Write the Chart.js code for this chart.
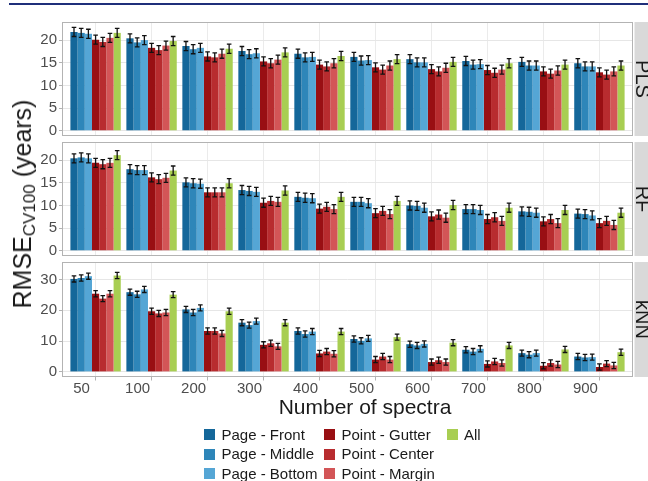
<!DOCTYPE html>
<html>
<head>
<meta charset="utf-8">
<script src="https://cdn.jsdelivr.net/npm/chart.js@4.4.1/dist/chart.umd.min.js"></script>
<style>
  html, body { margin: 0; padding: 0; background: #fff; }
  #wrap { position: relative; width: 648px; height: 481px; overflow: hidden; font-family: "Liberation Sans", Arial, sans-serif; color: #1a1a1a; }
  #wrap canvas { position: absolute; left: 0; }
  .topline { position: absolute; left: 9px; top: 3px; width: 639px; height: 2px; background: #1f2f7a; }
  #ytitle { position: absolute; left: 22px; top: 204px; transform: translate(-50%, -50%) rotate(-90deg); white-space: nowrap; font-size: 25px; line-height: 28px; }
  #ytitle sub { font-size: 17px; vertical-align: -4px; line-height: 0; }
  #xtitle { position: absolute; left: 365px; top: 394px; transform: translateX(-50%); white-space: nowrap; font-size: 21px; line-height: 26px; }
  .lg { position: absolute; font-size: 15px; line-height: 18px; white-space: nowrap; }
  .lg i { position: absolute; width: 11px; height: 11px; left: -17.5px; top: 3.5px; }
</style>
</head>
<body>
<div id="wrap">
  <div class="topline"></div>
  <canvas id="pls"></canvas>
  <canvas id="rf"></canvas>
  <canvas id="knn"></canvas>
  <div id="ytitle">RMSE<sub>CV100</sub> (years)</div>
  <div id="xtitle">Number of spectra</div>
</div>
<script>
// group labels (number of spectra)
const categories = ['50', '100', '200', '300', '400', '500', '600', '700', '800', '900'];
const seriesNames = ['Page - Front', 'Page - Middle', 'Page - Bottom', 'Point - Gutter', 'Point - Center', 'Point - Margin', 'All'];
const seriesColors = ['#14679a', '#2e86b9', '#55a6d5', '#990f13', '#b82c2f', '#d35557', '#a8ce52'];

// PLS
const plsFront  = [21.8, 20.4, 18.7, 17.6, 17.0, 16.3, 15.8, 15.4, 15.2, 14.9];
const plsMiddle = [21.6, 19.5, 18.0, 16.9, 16.2, 15.5, 15.1, 14.6, 14.4, 14.2];
const plsBottom = [21.4, 20.0, 18.3, 17.1, 16.3, 15.6, 15.1, 14.7, 14.4, 14.2];
const plsGutter = [20.1, 18.3, 16.4, 15.3, 14.6, 14.0, 13.6, 13.4, 13.1, 12.9];
const plsCenter = [19.6, 17.8, 16.2, 14.9, 14.2, 13.5, 13.1, 12.8, 12.6, 12.4];
const plsMargin = [20.5, 18.8, 17.0, 15.7, 14.9, 14.4, 13.9, 13.5, 13.3, 13.1];
const plsAll    = [21.6, 19.8, 18.1, 17.3, 16.5, 15.8, 15.2, 14.9, 14.6, 14.4];
const plsErr    = [1.0, 1.0, 1.0, 1.0, 1.0, 1.0, 1.0, 1.0, 1.0, 1.0];

// RF
const rfFront  = [20.4, 18.0, 15.1, 13.4, 11.9, 10.8, 10.0, 9.2, 8.7, 8.2];
const rfMiddle = [20.6, 17.8, 14.9, 13.2, 11.7, 10.8, 9.9, 9.2, 8.6, 8.1];
const rfBottom = [20.4, 17.8, 14.8, 13.0, 11.6, 10.5, 9.5, 9.0, 8.4, 7.8];
const rfGutter = [19.4, 16.2, 12.9, 10.6, 9.3, 8.3, 7.6, 7.0, 6.5, 6.1];
const rfCenter = [19.1, 15.8, 12.9, 11.0, 9.7, 8.8, 8.0, 7.4, 7.0, 6.6];
const rfMargin = [19.4, 16.1, 12.9, 10.8, 9.2, 8.1, 7.3, 6.6, 6.1, 5.7];
const rfAll    = [21.1, 17.7, 14.9, 13.3, 11.9, 11.0, 10.1, 9.5, 9.0, 8.4];
const rfErr    = [1.0, 1.0, 1.0, 1.0, 1.0, 1.0, 1.0, 1.0, 1.0, 1.0];

// kNN
const knnFront  = [30.2, 25.9, 20.3, 16.0, 13.3, 10.7, 9.0, 7.2, 6.1, 5.0];
const knnMiddle = [30.5, 25.2, 19.3, 15.2, 12.3, 10.1, 8.6, 6.6, 5.6, 4.7];
const knnBottom = [31.1, 26.8, 20.8, 16.5, 13.1, 10.9, 9.1, 7.5, 6.1, 4.8];
const knnGutter = [25.4, 19.7, 13.3, 8.8, 6.0, 4.0, 3.2, 2.6, 2.0, 1.6];
const knnCenter = [23.8, 19.0, 13.3, 9.3, 6.6, 5.0, 3.8, 3.4, 2.9, 2.7];
const knnMargin = [25.4, 19.3, 12.5, 8.3, 5.9, 4.0, 3.2, 2.9, 2.4, 2.1];
const knnAll    = [31.3, 25.1, 19.7, 16.0, 13.1, 11.3, 9.5, 8.6, 7.3, 6.4];
const knnErr    = [1.0, 1.0, 1.0, 1.0, 1.0, 1.0, 1.0, 1.0, 1.0, 1.0];

const FONT = '"Liberation Sans", Arial, sans-serif';
const PAD = 10;        // canvas padding above/below the panel
const PANEL_H = 116;
const XAXIS_H = 24;

// full panel border + facet strip on the right
const panelDeco = {
  id: 'panelDeco',
  afterDraw(chart, args, opts) {
    const { ctx, chartArea: a } = chart;
    ctx.save();
    ctx.fillStyle = '#d9d9d9';
    ctx.fillRect(a.right + 1.5, a.top, 20, a.bottom - a.top);
    ctx.strokeStyle = '#b3b3b3';
    ctx.lineWidth = 1;
    ctx.strokeRect(a.left + 0.5, a.top + 0.5, a.right - a.left - 1, a.bottom - a.top - 1);
    ctx.translate(a.right + 2.5, (a.top + a.bottom) / 2);
    ctx.rotate(Math.PI / 2);
    ctx.fillStyle = '#1a1a1a';
    ctx.font = '20px ' + FONT;
    ctx.textAlign = 'center';
    ctx.textBaseline = 'alphabetic';
    ctx.fillText(opts.label, 0, 0);
    ctx.restore();
  }
};

// error bars drawn over each bar
const errorBars = {
  id: 'errorBars',
  afterDatasetsDraw(chart, args, opts) {
    const { ctx } = chart;
    const y = chart.scales.y;
    ctx.save();
    ctx.strokeStyle = '#111';
    ctx.lineWidth = 1.3;
    chart.data.datasets.forEach((ds, di) => {
      const meta = chart.getDatasetMeta(di);
      meta.data.forEach((bar, i) => {
        const v = ds.data[i].y;
        const e = opts.err[i];
        const y1 = y.getPixelForValue(v + e);
        const y2 = y.getPixelForValue(v - e);
        const x = bar.x;
        ctx.beginPath();
        ctx.moveTo(x, y1); ctx.lineTo(x, y2);
        ctx.moveTo(x - 2.3, y1); ctx.lineTo(x + 2.3, y1);
        ctx.moveTo(x - 2.3, y2); ctx.lineTo(x + 2.3, y2);
        ctx.stroke();
      });
    });
    ctx.restore();
  }
};

function isMajor(v, step) {
  return Math.abs(v / step - Math.round(v / step)) < 1e-6;
}

function makePanel(id, top, label, series, err, yMin, yMax, minorStep, majorStep, showX) {
  const canvas = document.getElementById(id);
  const h = PAD + PANEL_H + (showX ? XAXIS_H : 0) + PAD;
  canvas.width = 648;
  canvas.height = h;
  canvas.style.width = '648px';
  canvas.style.height = h + 'px';
  canvas.style.top = (top - PAD) + 'px';

  const datasets = series.map((vals, s) => ({
    label: seriesNames[s],
    data: vals.map((v, i) => ({ x: i + 1, y: v })),
    backgroundColor: seriesColors[s],
    borderWidth: 0,
    categoryPercentage: 0.9,
    barPercentage: 1.0
  }));

  return new Chart(canvas.getContext('2d'), {
    type: 'bar',
    data: { datasets },
    options: {
      responsive: false,
      animation: false,
      devicePixelRatio: 1,
      layout: { padding: { top: PAD, bottom: PAD, left: 0, right: 15 } },
      plugins: {
        legend: { display: false },
        tooltip: { enabled: false },
        panelDeco: { label },
        errorBars: { err }
      },
      scales: {
        x: {
          type: 'linear',
          offset: false,
          min: 0.4,
          max: 10.6,
          afterBuildTicks: (s) => { s.ticks = categories.map((c, i) => ({ value: i + 1 })); },
          afterFit: (s) => { s.height = showX ? XAXIS_H : 0; },
          border: { display: false },
          grid: { offset: false, color: '#ebebeb', lineWidth: 1, drawTicks: showX, tickLength: 3.5, tickColor: '#b3b3b3' },
          ticks: {
            display: showX,
            autoSkip: false,
            maxRotation: 0,
            padding: -1,
            labelOffset: -14,
            color: '#4d4d4d',
            font: { family: FONT, size: 15 },
            callback: (v) => categories[Math.round(v) - 1]
          }
        },
        y: {
          min: yMin,
          max: yMax,
          afterBuildTicks: (s) => {
            const t = [];
            for (let v = 0; v <= yMax + 1e-9; v += minorStep) t.push({ value: v });
            s.ticks = t;
          },
          afterFit: (s) => { s.width = 62; },
          border: { display: false },
          grid: {
            color: (c) => isMajor(c.tick.value, majorStep) ? '#e6e6e6' : '#f4f4f4',
            lineWidth: 1,
            tickLength: 3,
            tickColor: (c) => isMajor(c.tick.value, majorStep) ? '#b3b3b3' : 'rgba(0,0,0,0)'
          },
          ticks: {
            padding: 2,
            color: '#4d4d4d',
            font: { family: FONT, size: 15 },
            callback: (v) => isMajor(v, majorStep) ? String(v) : ''
          }
        }
      }
    },
    plugins: [panelDeco, errorBars]
  });
}

makePanel('pls', 21, 'PLS',
  [plsFront, plsMiddle, plsBottom, plsGutter, plsCenter, plsMargin, plsAll], plsErr,
  -1.15, 24.0, 2.5, 5, false);
makePanel('rf', 141, 'RF',
  [rfFront, rfMiddle, rfBottom, rfGutter, rfCenter, rfMargin, rfAll], rfErr,
  -1.15, 24.0, 2.5, 5, false);
makePanel('knn', 261, 'kNN',
  [knnFront, knnMiddle, knnBottom, knnGutter, knnCenter, knnMargin, knnAll], knnErr,
  -1.65, 35.7, 5, 10, true);

// legend: three columns, filled column by column
const wrap = document.getElementById('wrap');
const colX = [221.5, 341.5, 464];
const rowY = [434.5, 454, 473.5];
seriesNames.forEach((name, i) => {
  const d = document.createElement('div');
  d.className = 'lg';
  d.style.left = colX[Math.floor(i / 3)] + 'px';
  d.style.top = (rowY[i % 3] - 9) + 'px';
  d.innerHTML = '<i style="background:' + seriesColors[i] + '"></i>' + name;
  wrap.appendChild(d);
});
</script>
</body>
</html>
